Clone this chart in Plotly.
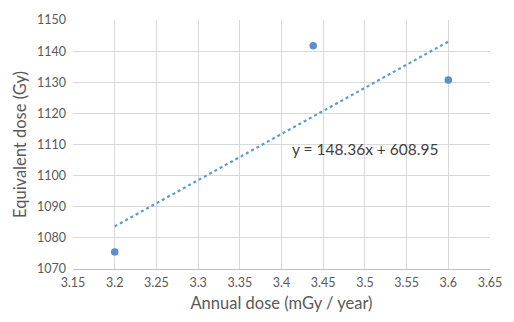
import plotly.graph_objects as go

annual_dose = [3.2, 3.438, 3.6]
equivalent_dose = [1075.5, 1141.7, 1130.7]
slope = 148.36
intercept = 608.95
trend_x = [3.2, 3.6]
trend_y = [slope * v + intercept for v in trend_x]

x_ticks = [3.15, 3.2, 3.25, 3.3, 3.35, 3.4, 3.45, 3.5, 3.55, 3.6, 3.65]
x_tick_labels = ["3.15", "3.2", "3.25", "3.3", "3.35", "3.4", "3.45", "3.5", "3.55", "3.6", "3.65"]
y_ticks = [1070, 1080, 1090, 1100, 1110, 1120, 1130, 1140, 1150]
y_tick_labels = [str(v) for v in y_ticks]

FONT = "Lato, 'Open Sans', sans-serif"

fig = go.Figure()
fig.add_trace(go.Scatter(
    x=trend_x, y=trend_y, mode="lines",
    line=dict(color="#5b9bd5", width=2.2, dash="dot"),
    hoverinfo="skip", showlegend=False,
))
fig.add_trace(go.Scatter(
    x=annual_dose, y=equivalent_dose, mode="markers",
    marker=dict(color="#5b8fcc", size=7.5),
    showlegend=False,
))
fig.add_annotation(
    x=3.50, y=1108.4, xref="x", yref="y",
    text="y = 148.36x + 608.95", showarrow=False,
    font=dict(family=FONT, size=15.5, color="#404040"),
)

fig.update_layout(
    width=514, height=322,
    margin=dict(l=73, r=14, t=15, b=52),
    paper_bgcolor="white", plot_bgcolor="white",
    font=dict(family=FONT, color="#595959"),
    showlegend=False,
)
fig.update_xaxes(
    range=[3.15, 3.65], tickvals=x_ticks, ticktext=x_tick_labels,
    showgrid=True, gridcolor="#d9d9d9", gridwidth=1,
    zeroline=False, showline=True, linecolor="#bfbfbf", linewidth=1,
    ticks="", tickfont=dict(size=12.5, color="#595959"), ticklabelstandoff=2,
    title=dict(text="Annual dose (mGy / year)", font=dict(size=16.5, color="#595959"), standoff=8),
)
fig.update_yaxes(
    range=[1070, 1150], tickvals=y_ticks, ticktext=y_tick_labels,
    showgrid=True, gridcolor="#d9d9d9", gridwidth=1,
    zeroline=False, showline=False,
    ticks="", tickfont=dict(size=12.5, color="#595959"), ticklabelstandoff=6,
    title=dict(text="Equivalent dose (Gy)", font=dict(size=16.5, color="#595959"), standoff=6),
)

fig.write_html("out.html")
